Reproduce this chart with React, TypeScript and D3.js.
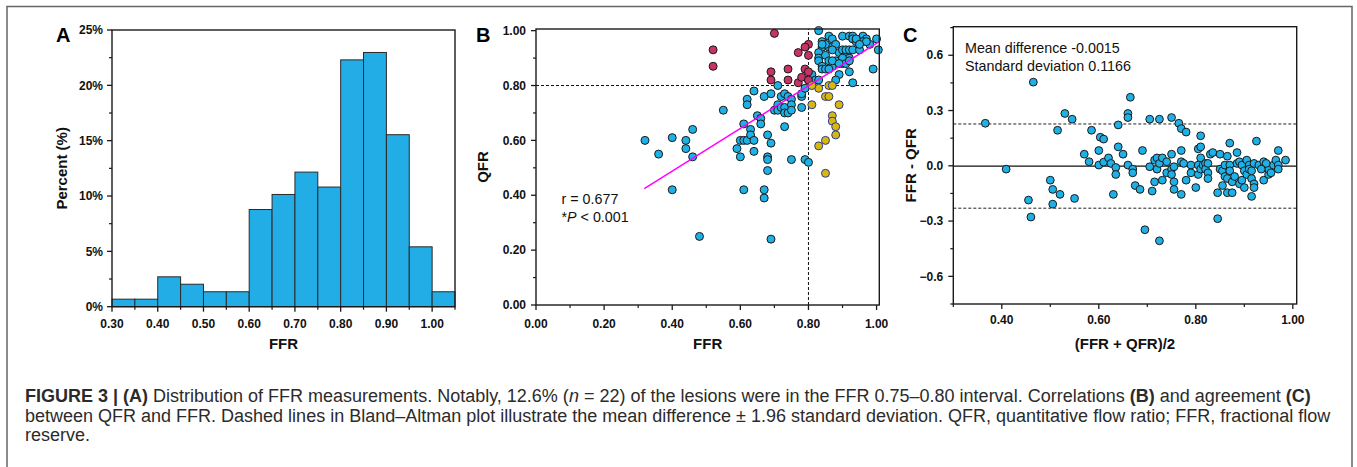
import React from "react";
import * as d3 from "d3";

// ---------- DATA ----------
const histBinStarts = [0.3, 0.35, 0.4, 0.45, 0.5, 0.55, 0.6, 0.65, 0.7, 0.75, 0.8, 0.85, 0.9, 0.95, 1.0];
const histPercent = [0.68, 0.68, 2.7, 2.03, 1.35, 1.35, 8.78, 10.14, 12.16, 10.81, 22.3, 22.97, 15.54, 5.41, 1.35];
const histXTicks = [0.3, 0.4, 0.5, 0.6, 0.7, 0.8, 0.9, 1.0];
const histXMinor = [0.35, 0.45, 0.55, 0.65, 0.75, 0.85, 0.95, 1.05];
const histYTicks = [0, 5, 10, 15, 20, 25];
const histYMinor = [2.5, 7.5, 12.5, 17.5, 22.5];

// Panel B: [FFR, QFR]
const bBlue: [number, number][] = [
  [0.32, 0.6], [0.36, 0.55], [0.4, 0.61], [0.4, 0.42], [0.44, 0.6], [0.44, 0.57], [0.46, 0.64], [0.46, 0.54],
  [0.48, 0.25], [0.55, 0.71], [0.59, 0.57], [0.6, 0.54], [0.6, 0.6], [0.61, 0.66], [0.61, 0.6], [0.62, 0.6],
  [0.61, 0.42], [0.62, 0.75], [0.62, 0.73], [0.63, 0.64], [0.63, 0.62], [0.64, 0.6], [0.64, 0.56], [0.64, 0.78],
  [0.65, 0.69], [0.66, 0.68], [0.66, 0.66], [0.67, 0.76], [0.67, 0.42], [0.67, 0.39], [0.68, 0.62], [0.68, 0.54],
  [0.68, 0.53], [0.68, 0.49], [0.69, 0.59], [0.69, 0.77], [0.69, 0.24], [0.7, 0.71], [0.71, 0.8], [0.71, 0.73],
  [0.71, 0.71], [0.72, 0.76], [0.72, 0.72], [0.73, 0.77], [0.73, 0.72], [0.73, 0.7], [0.73, 0.65], [0.74, 0.76],
  [0.74, 0.7], [0.75, 0.75], [0.75, 0.73], [0.75, 0.71], [0.75, 0.53], [0.78, 0.76], [0.78, 0.77], [0.78, 0.72],
  [0.79, 0.79], [0.79, 0.53], [0.8, 0.52], [0.8, 0.82], [0.81, 0.83], [0.81, 0.84], [0.82, 0.82], [0.83, 0.82],
  [0.83, 1.0], [0.86, 0.98], [0.87, 0.97], [0.9, 0.98], [0.92, 0.98], [0.93, 0.98], [0.93, 0.97], [0.96, 0.98],
  [0.97, 0.97], [0.98, 0.95], [1.0, 0.97], [1.005, 0.93], [0.99, 0.86], [0.84, 0.96], [0.84, 0.94], [0.83, 0.92],
  [0.83, 0.9], [0.83, 0.89], [0.84, 0.87], [0.84, 0.86], [0.85, 0.91], [0.86, 0.89], [0.86, 0.94], [0.87, 0.87],
  [0.88, 0.95], [0.88, 0.89], [0.89, 0.92], [0.9, 0.93], [0.9, 0.88], [0.91, 0.91], [0.91, 0.93], [0.92, 0.9],
  [0.92, 0.93], [0.93, 0.93], [0.95, 0.93], [0.95, 0.96], [0.94, 0.96], [0.9, 0.9], [0.87, 0.89], [0.85, 0.86],
  [0.86, 0.86], [0.89, 0.84], [0.88, 0.82], [0.92, 0.85], [0.93, 0.81], [0.91, 0.88], [0.89, 0.88], [0.85, 0.95],
  [0.96, 0.96], [0.94, 0.97], [0.97, 0.96], [0.84, 0.95], [0.87, 0.93], [0.92, 0.89], [0.95, 0.95],
];
const bRed: [number, number][] = [
  [0.7, 0.99], [0.52, 0.93], [0.52, 0.87], [0.8, 0.95], [0.79, 0.94], [0.77, 0.92], [0.8, 0.91], [0.69, 0.85],
  [0.69, 0.82], [0.74, 0.86], [0.74, 0.82], [0.79, 0.86], [0.8, 0.85], [0.77, 0.81], [0.78, 0.83], [0.8, 0.82],
];
const bYellow: [number, number][] = [
  [0.83, 0.79], [0.81, 0.8], [0.86, 0.8], [0.87, 0.8], [0.85, 0.76], [0.86, 0.76], [0.81, 0.73], [0.89, 0.73],
  [0.87, 0.69], [0.87, 0.67], [0.88, 0.65], [0.88, 0.62], [0.83, 0.58], [0.85, 0.6], [0.85, 0.48],
];
const bTicks = [0, 0.2, 0.4, 0.6, 0.8, 1.0];
const bMinor = [0.1, 0.3, 0.5, 0.7, 0.9];
const regression = { intercept: 0.177, slope: 0.777, from: 0.318, to: 1.008 };
const corrR = "0.677";
const corrP = "0.001";

// Panel C: [mean, difference]
const cPoints: [number, number][] = [
  [0.366, 0.231], [0.409, -0.018], [0.465, 0.454], [0.455, -0.186], [0.46, -0.278], [0.5, -0.078], [0.505, -0.128],
  [0.505, -0.208], [0.52, -0.155], [0.515, 0.193], [0.53, 0.284], [0.545, 0.253], [0.55, -0.177], [0.57, 0.063],
  [0.58, 0.022], [0.585, 0.193], [0.6, 0.083], [0.6, 0.004], [0.603, 0.155], [0.61, 0.145], [0.61, 0.02],
  [0.62, 0.043], [0.625, 0.013], [0.635, -0.009], [0.635, -0.047], [0.63, -0.155], [0.64, 0.222], [0.64, 0.103],
  [0.65, 0.063], [0.66, 0.284], [0.66, 0.262], [0.66, 0.004], [0.665, 0.372], [0.67, -0.018], [0.67, -0.038],
  [0.675, -0.107], [0.685, -0.128], [0.69, 0.083], [0.695, -0.347], [0.705, 0.253], [0.705, -0.005], [0.71, -0.137],
  [0.715, -0.087], [0.715, 0.031], [0.72, 0.043], [0.72, -0.018], [0.725, 0.253], [0.725, 0.013], [0.725, -0.407],
  [0.731, 0.043], [0.731, -0.078], [0.74, 0.022], [0.74, -0.038], [0.75, 0.262], [0.75, 0.063], [0.75, -0.018],
  [0.75, -0.047], [0.755, -0.005], [0.755, -0.087], [0.755, -0.128], [0.765, 0.231], [0.77, 0.202], [0.77, 0.083],
  [0.77, 0.022], [0.77, -0.155], [0.775, 0.013], [0.78, 0.183], [0.78, -0.078], [0.79, 0.004], [0.79, -0.038],
  [0.8, -0.118], [0.805, 0.092], [0.805, 0.004], [0.805, -0.047], [0.81, 0.163], [0.81, 0.103], [0.81, 0.043],
  [0.81, -0.018], [0.815, 0.004], [0.82, 0.013], [0.82, -0.018], [0.825, -0.038], [0.825, -0.069], [0.825, 0.013],
  [0.83, 0.063], [0.835, 0.072], [0.845, -0.146], [0.845, -0.287], [0.85, 0.063], [0.85, -0.018], [0.855, -0.107],
  [0.855, -0.027], [0.86, 0.004], [0.86, -0.058], [0.865, 0.052], [0.865, -0.069], [0.865, -0.146], [0.87, 0.123],
  [0.87, 0.004], [0.87, -0.027], [0.875, -0.087], [0.875, -0.146], [0.88, -0.058], [0.885, 0.072], [0.885, 0.013],
  [0.89, -0.098], [0.89, 0.022], [0.895, 0.004], [0.895, -0.078], [0.9, -0.118], [0.9, -0.027], [0.905, 0.031],
  [0.905, -0.047], [0.91, 0.004], [0.91, -0.018], [0.915, -0.069], [0.915, -0.166], [0.915, -0.027], [0.92, -0.098],
  [0.92, -0.118], [0.92, 0.013], [0.925, 0.134], [0.93, 0.004], [0.94, -0.078], [0.94, 0.022], [0.95, -0.047],
  [0.95, -0.018], [0.955, -0.038], [0.96, 0.004], [0.965, 0.031], [0.97, 0.083], [0.97, 0.004], [0.97, -0.018],
  [0.985, 0.031], [0.945, 0.013], [0.935, -0.018],
];
const cMeanDiff = -0.0015;
const cSD = 0.1166;
const cXTicks = [0.4, 0.6, 0.8, 1.0];
const cXMinor = [0.3, 0.5, 0.7, 0.9];
const cYTicks = [-0.6, -0.3, 0, 0.3, 0.6];
const cYMinor = [-0.75, -0.45, -0.15, 0.15, 0.45, 0.75];

const captionLine2 =
  "between QFR and FFR. Dashed lines in Bland–Altman plot illustrate the mean difference ± 1.96 standard deviation. QFR, quantitative flow ratio; FFR, fractional flow";
const captionLine3 = "reserve.";

// ---------- STYLE ----------
const FONT = "'Liberation Sans', Arial, Helvetica, sans-serif";
const AXIS = "#1a1a1a";
const BLUE = "#1fb0e6";
const RED = "#c73366";
const YELLOW = "#d8b80c";

type Scale = d3.ScaleLinear<number, number>;

function Frame({ x, y }: { x: Scale; y: Scale }) {
  const [x0, x1] = x.range();
  const [y0, y1] = y.range();
  return (
    <rect x={x0} y={y1} width={x1 - x0} height={y0 - y1} fill="none" stroke={AXIS} strokeWidth={1.4} />
  );
}

function XAxis({ x, y, ticks, minor, fmt, labelDy }: { x: Scale; y: Scale; ticks: number[]; minor: number[]; fmt: (v: number) => string; labelDy: number }) {
  const y0 = y.range()[0];
  return (
    <g>
      {ticks.map((t) => (
        <g key={"t" + t}>
          <line x1={x(t)} x2={x(t)} y1={y0} y2={y0 + 5} stroke={AXIS} strokeWidth={1.3} />
          <text x={x(t)} y={y0 + labelDy} textAnchor="middle" fontFamily={FONT} fontWeight="bold" fontSize={12} fill="#111">
            {fmt(t)}
          </text>
        </g>
      ))}
      {minor.map((t) => (
        <line key={"m" + t} x1={x(t)} x2={x(t)} y1={y0} y2={y0 + 3} stroke={AXIS} strokeWidth={1.2} />
      ))}
    </g>
  );
}

function YAxis({ x, y, ticks, minor, fmt, gap }: { x: Scale; y: Scale; ticks: number[]; minor: number[]; fmt: (v: number) => string; gap: number }) {
  const x0 = x.range()[0];
  return (
    <g>
      {ticks.map((t) => (
        <g key={"t" + t}>
          <line x1={x0 - 5} x2={x0} y1={y(t)} y2={y(t)} stroke={AXIS} strokeWidth={1.3} />
          <text x={x0 - gap} y={y(t)} dy="0.35em" textAnchor="end" fontFamily={FONT} fontWeight="bold" fontSize={12} fill="#111">
            {fmt(t)}
          </text>
        </g>
      ))}
      {minor.map((t) => (
        <line key={"m" + t} x1={x0 - 3} x2={x0} y1={y(t)} y2={y(t)} stroke={AXIS} strokeWidth={1.2} />
      ))}
    </g>
  );
}

function Titles({ x, y, xTitle, yTitle, yTitleX, letter, letterX, xTitleY }: { x: Scale; y: Scale; xTitle: string; yTitle: string; yTitleX: number; letter: string; letterX: number; xTitleY: number }) {
  const [x0, x1] = x.range();
  const [y0, y1] = y.range();
  const cy = (y0 + y1) / 2;
  return (
    <g fontFamily={FONT} fill="#111">
      <text x={(x0 + x1) / 2} y={xTitleY} textAnchor="middle" fontWeight="bold" fontSize={15}>{xTitle}</text>
      <text transform={`translate(${yTitleX},${cy}) rotate(-90)`} textAnchor="middle" dy="0.35em" fontWeight="bold" fontSize={15}>{yTitle}</text>
      <text x={letterX} y={41.5} fontWeight="bold" fontSize={20} fill="#000">{letter}</text>
    </g>
  );
}

function PanelA() {
  const x = d3.scaleLinear().domain([0.3, 1.05]).range([112, 455]);
  const y = d3.scaleLinear().domain([0, 25]).range([306.7, 30]);
  const binW = 0.05;
  return (
    <g>
      {histBinStarts.map((b, i) => (
        <rect key={b} x={x(b)} y={y(histPercent[i])} width={x(b + binW) - x(b)} height={y(0) - y(histPercent[i])} fill="#22ade6" stroke="#2a2a2a" strokeWidth={1} />
      ))}
      <Frame x={x} y={y} />
      <XAxis x={x} y={y} ticks={histXTicks} minor={histXMinor} fmt={d3.format(".2f")} labelDy={21.5} />
      <YAxis x={x} y={y} ticks={histYTicks} minor={histYMinor} fmt={(v) => `${v}%`} gap={9} />
      <Titles x={x} y={y} xTitle="FFR" yTitle="Percent (%)" yTitleX={62} letter="A" letterX={56} xTitleY={349} />
    </g>
  );
}

function PanelB() {
  const x = d3.scaleLinear().domain([0, 1.008]).range([536, 879.3]);
  const y = d3.scaleLinear().domain([0, 1.006]).range([305, 29]);
  const line = d3.line<number>().x((v) => x(v)).y((v) => y(regression.intercept + regression.slope * v));
  const dot = (arr: [number, number][], fill: string, stroke: string, key: string) =>
    arr.map((p, i) => <circle key={key + i} cx={x(p[0])} cy={y(p[1])} r={4} fill={fill} stroke={stroke} strokeWidth={1} />);
  const [x0, x1] = x.range();
  const [y0, y1] = y.range();
  return (
    <g>
      <line x1={x0} x2={x1} y1={y(0.8)} y2={y(0.8)} stroke="#111" strokeWidth={1} strokeDasharray="3,2" />
      <line x1={x(0.8)} x2={x(0.8)} y1={y0} y2={y1} stroke="#111" strokeWidth={1} strokeDasharray="3,2" />
      {dot(bBlue, BLUE, "#1a1a1a", "b")}
      {dot(bRed, RED, "#1a1a1a", "r")}
      {dot(bYellow, YELLOW, "#2c3a8c", "y")}
      <path d={line([regression.from, regression.to]) || ""} stroke="#ff00ff" strokeWidth={1.5} fill="none" />
      <Frame x={x} y={y} />
      <XAxis x={x} y={y} ticks={bTicks} minor={bMinor} fmt={d3.format(".2f")} labelDy={22.5} />
      <YAxis x={x} y={y} ticks={bTicks} minor={bMinor} fmt={d3.format(".2f")} gap={10} />
      <Titles x={x} y={y} xTitle="FFR" yTitle="QFR" yTitleX={483} letter="B" letterX={476} xTitleY={349} />
      <g fontFamily={FONT} fontSize={14.3} fill="#111">
        <text x={561.5} y={203.5}>r = {corrR}</text>
        <text x={561.5} y={221.5}>*<tspan fontStyle="italic">P</tspan> &lt; {corrP}</text>
      </g>
    </g>
  );
}

function PanelC() {
  const x = d3.scaleLinear().domain([0.3, 1.008]).range([953.3, 1296.7]);
  const y = d3.scaleLinear().domain([-0.75, 0.755]).range([304, 26.7]);
  const [x0, x1] = x.range();
  const upper = cMeanDiff + 1.96 * cSD;
  const lower = cMeanDiff - 1.96 * cSD;
  return (
    <g>
      <line x1={x0} x2={x1} y1={y(upper)} y2={y(upper)} stroke="#222" strokeWidth={1} strokeDasharray="3,2" />
      <line x1={x0} x2={x1} y1={y(lower)} y2={y(lower)} stroke="#222" strokeWidth={1} strokeDasharray="3,2" />
      <line x1={x0} x2={x1} y1={y(cMeanDiff)} y2={y(cMeanDiff)} stroke="#111" strokeWidth={1.4} />
      {cPoints.map((p, i) => (
        <circle key={i} cx={x(p[0])} cy={y(p[1])} r={3.9} fill={BLUE} stroke="#1a1a1a" strokeWidth={1} />
      ))}
      <Frame x={x} y={y} />
      <XAxis x={x} y={y} ticks={cXTicks} minor={cXMinor} fmt={d3.format(".2f")} labelDy={19.5} />
      <YAxis x={x} y={y} ticks={cYTicks} minor={cYMinor} fmt={d3.format(".1f")} gap={10} />
      <Titles x={x} y={y} xTitle="(FFR + QFR)/2" yTitle="FFR - QFR" yTitleX={911} letter="C" letterX={903} xTitleY={349} />
      <g fontFamily={FONT} fontSize={14.3} fill="#111">
        <text x={965} y={53}>Mean difference {cMeanDiff.toFixed(4)}</text>
        <text x={965} y={71}>Standard deviation {cSD.toFixed(4)}</text>
      </g>
    </g>
  );
}

function Caption() {
  const fs = 18;
  return (
    <g fontFamily={FONT} fontSize={fs} fill="#2b2b2b">
      <text x={25} y={402}>
        <tspan fontWeight="bold">FIGURE 3 | (A)</tspan>
        <tspan> Distribution of FFR measurements. Notably, 12.6% (</tspan>
        <tspan fontStyle="italic">n</tspan>
        <tspan> = 22) of the lesions were in the FFR 0.75–0.80 interval. Correlations </tspan>
        <tspan fontWeight="bold">(B)</tspan>
        <tspan> and agreement </tspan>
        <tspan fontWeight="bold">(C)</tspan>
      </text>
      <text x={25} y={421.5}>{captionLine2}</text>
      <text x={25} y={441}>{captionLine3}</text>
    </g>
  );
}

export default function App() {
  return (
    <svg width={1357} height={467} style={{ position: "absolute", left: 0, top: 0, background: "#fff" }}>
      <rect x={0} y={0} width={1357} height={467} fill="#fff" />
      <path d="M7,470 L7,6.5 L1352,6.5 L1352,470" fill="none" stroke="#666" strokeWidth={1.5} />
      <PanelA />
      <PanelB />
      <PanelC />
      <Caption />
    </svg>
  );
}
